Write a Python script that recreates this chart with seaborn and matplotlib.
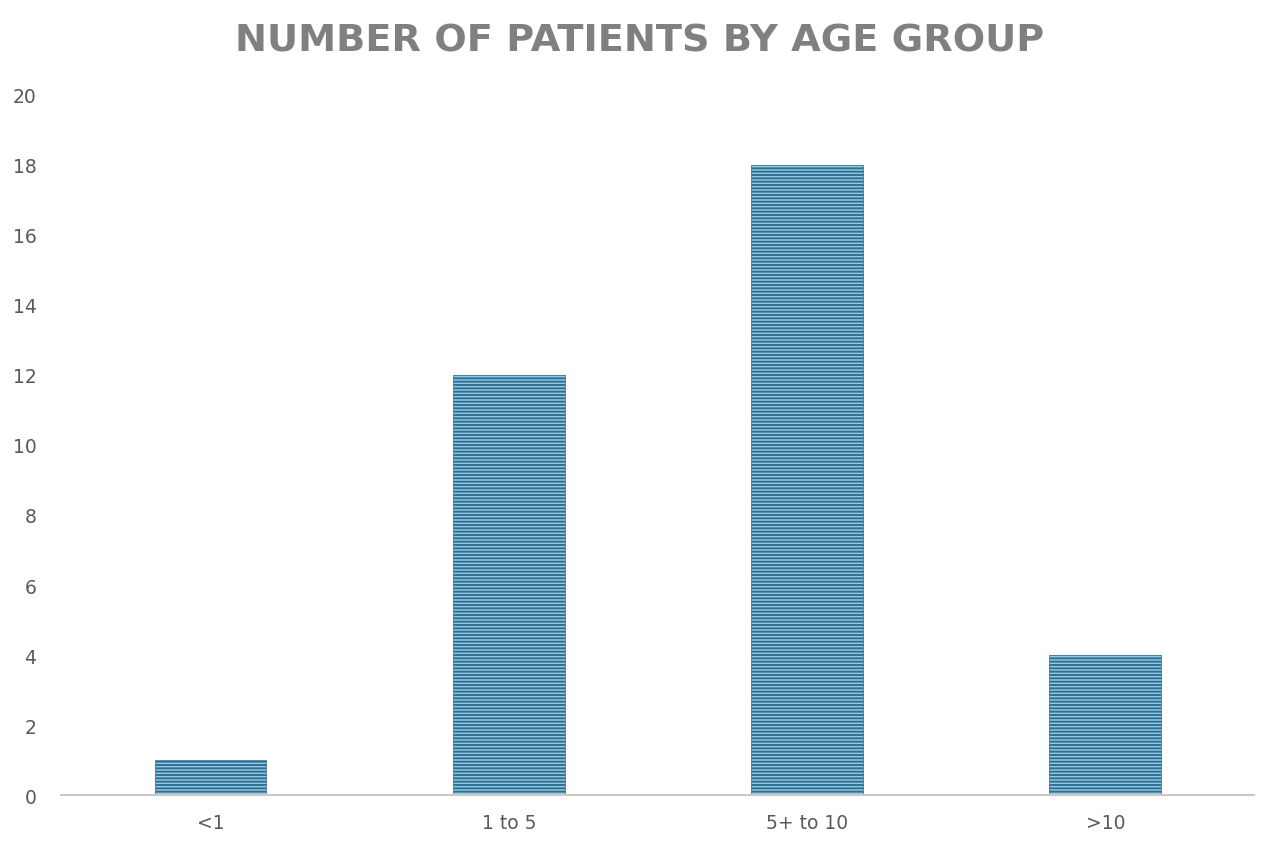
import matplotlib
matplotlib.use("Agg")
import matplotlib.pyplot as plt
import seaborn as sns
import pandas as pd

# chart data
age_groups = ['<1', '1 to 5', '5+ to 10', '>10']
patients = [1, 12, 18, 4]

df = pd.DataFrame({'Age Group': age_groups, 'Patients': patients})

sns.set_theme(style='white')
plt.rcParams['font.family'] = ['DejaVu Sans']
plt.rcParams['hatch.linewidth'] = 1.35

fig = plt.figure(figsize=(12.8, 8.53), dpi=100)
ax = fig.add_axes([0.048, 0.0668, 0.932, 0.8207])

sns.barplot(data=df, x='Age Group', y='Patients', ax=ax,
            color='#96c9e0', width=0.375, saturation=1)

for bar in ax.patches:
    bar.set_hatch('-----')
    bar.set_edgecolor('#2c6e91')
    bar.set_linewidth(0.5)

ax.set_ylim(0, 20)
ax.set_xlim(-0.5, 3.5)
ax.set_yticks(range(0, 21, 2))
ax.set_xlabel('')
ax.set_ylabel('')
ax.tick_params(axis='both', labelsize=13.5, colors='#595959', length=0)
ax.tick_params(axis='x', pad=13)
ax.tick_params(axis='y', pad=18)

for side in ['top', 'right', 'left']:
    ax.spines[side].set_visible(False)
ax.spines['bottom'].set_color('#c8c8c8')
ax.spines['bottom'].set_linewidth(1.5)

fig.text(0.5, 0.951, 'NUMBER OF PATIENTS BY AGE GROUP', ha='center', va='center',
         fontsize=27.5, fontweight='bold', color='#808080')

fig.savefig('out.png', dpi=100)
